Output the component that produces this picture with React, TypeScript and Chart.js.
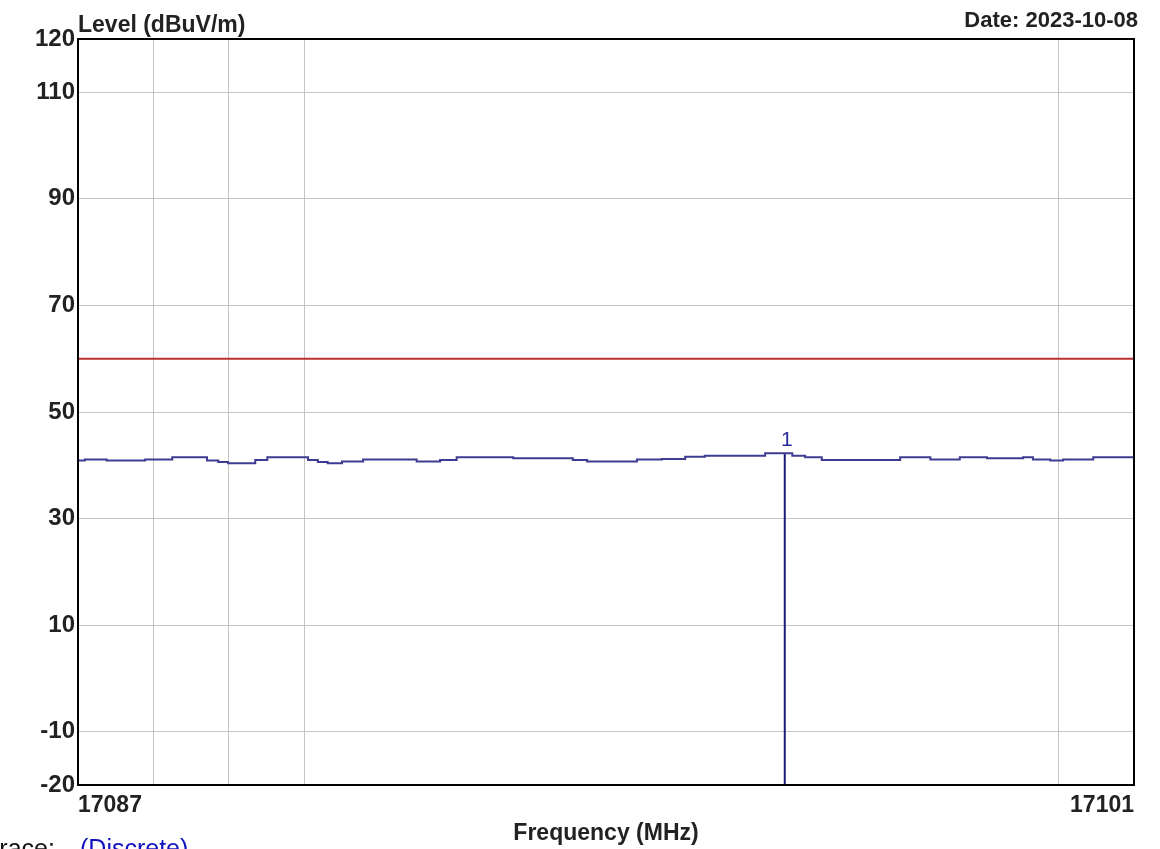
import React, { useEffect, useRef } from "react";
import { Chart, registerables } from "chart.js";

Chart.register(...registerables);

// ---- data ----
const freqMin = 17087;
const freqMax = 17101;
const levelMin = -20;
const levelMax = 120;
const yTickValues = [-20, -10, 10, 30, 50, 70, 90, 110, 120];
const xTickValues = [17087, 17088, 17089, 17090, 17100, 17101];
const xLabelled = [17087, 17101];

const traceFreqs = [
  17087.0, 17087.09, 17087.38, 17087.89, 17088.25, 17088.71, 17088.86, 17088.99,
  17089.35, 17089.51, 17090.05, 17090.18, 17090.31, 17090.5, 17090.78, 17091.49,
  17091.8, 17092.02, 17092.77, 17093.56, 17093.75, 17094.41, 17094.74, 17095.05,
  17095.31, 17096.11, 17096.47, 17096.64, 17096.86, 17097.9, 17098.3, 17098.69,
  17099.05, 17099.53, 17099.66, 17099.89, 17100.06, 17100.46, 17101.0,
];
const traceLevels = [
  40.9, 41.1, 40.9, 41.1, 41.5, 40.9, 40.6, 40.4,
  41.0, 41.5, 41.0, 40.6, 40.4, 40.7, 41.1, 40.7,
  41.0, 41.5, 41.3, 41.0, 40.7, 41.1, 41.2, 41.6,
  41.8, 42.25, 41.8, 41.5, 41.0, 41.5, 41.1, 41.5,
  41.3, 41.5, 41.1, 40.9, 41.1, 41.5, 41.5,
];

const limitLevel = 60;
const markerFreq = 17096.37;
const markerLevel = 42.25;
const markerLabel = "1";

const yTitle = "Level (dBuV/m)";
const dateText = "Date: 2023-10-08";
const xTitle = "Frequency (MHz)";
const traceWord = "Trace:";
const traceMode = "(Discrete)";

const FONT = "'Liberation Sans', Arial, sans-serif";

const overlayPlugin = {
  id: "overlay",
  afterDraw(chart: any) {
    const { ctx, chartArea } = chart;
    const xs = chart.scales.x;
    const ys = chart.scales.y;
    ctx.save();
    // frame
    ctx.strokeStyle = "#000";
    ctx.lineWidth = 2;
    ctx.strokeRect(chartArea.left, chartArea.top, chartArea.right - chartArea.left, chartArea.bottom - chartArea.top);
    // texts
    ctx.fillStyle = "#222";
    ctx.font = `bold 23px ${FONT}`;
    ctx.textBaseline = "alphabetic";
    ctx.textAlign = "left";
    ctx.fillText(yTitle, 78, 32);
    ctx.font = `bold 22px ${FONT}`;
    ctx.textAlign = "right";
    ctx.fillText(dateText, 1138, 27);
    ctx.font = `bold 23px ${FONT}`;
    ctx.textAlign = "center";
    ctx.fillText(xTitle, 606, 840);
    // trace legend (cut off at bottom)
    ctx.textAlign = "left";
    ctx.font = `25px ${FONT}`;
    ctx.fillStyle = "#111";
    ctx.fillText(traceWord, -15, 857);
    ctx.fillStyle = "#1010c0";
    ctx.fillText(traceMode, 80, 857);
    // marker label
    ctx.fillStyle = "#2a2aa0";
    ctx.font = `21px ${FONT}`;
    ctx.textAlign = "center";
    ctx.fillText(markerLabel, xs.getPixelForValue(markerFreq) + 2, ys.getPixelForValue(markerLevel) - 7);
    ctx.restore();
  },
};

export default function App() {
  const ref = useRef<HTMLCanvasElement | null>(null);
  useEffect(() => {
    if (!ref.current) return;
    const trace = traceFreqs.map((f, i) => ({ x: f, y: traceLevels[i] }));
    const chart = new Chart(ref.current, {
      type: "line",
      data: {
        datasets: [
          {
            label: "Limit",
            data: [
              { x: freqMin, y: limitLevel },
              { x: freqMax, y: limitLevel },
            ],
            borderColor: "#b83232",
            borderWidth: 2,
            pointRadius: 0,
          },
          {
            label: "Trace",
            data: trace,
            borderColor: "#3c3c92",
            borderWidth: 2,
            pointRadius: 0,
            stepped: true,
          },
          {
            label: "Marker",
            data: [
              { x: markerFreq, y: levelMin },
              { x: markerFreq, y: markerLevel },
            ],
            borderColor: "#1c1c78",
            borderWidth: 2,
            pointRadius: 0,
          },
        ],
      },
      options: {
        responsive: false,
        animation: false,
        layout: { padding: { left: 0, top: 39, right: 26, bottom: 0 } },
        plugins: { legend: { display: false }, tooltip: { enabled: false }, title: { display: false } },
        scales: {
          x: {
            type: "linear",
            min: freqMin,
            max: freqMax,
            afterBuildTicks: (s: any) => {
              s.ticks = xTickValues.map((v) => ({ value: v }));
            },
            afterFit: (s: any) => {
              s.height = 849 - 785;
            },
            grid: { color: "#c4c4c4", lineWidth: 1, drawTicks: false },
            border: { display: false },
            ticks: {
              autoSkip: false,
              maxRotation: 0,
              align: "inner",
              padding: 7,
              color: "#222",
              font: { family: FONT, size: 23, weight: "bold" },
              callback: (v: any) => (xLabelled.includes(Number(v)) ? String(v) : ""),
            },
          },
          y: {
            type: "linear",
            min: levelMin,
            max: levelMax,
            afterBuildTicks: (s: any) => {
              s.ticks = yTickValues.map((v) => ({ value: v }));
            },
            afterFit: (s: any) => {
              s.width = 78;
            },
            grid: { color: "#c4c4c4", lineWidth: 1, drawTicks: false },
            border: { display: false },
            ticks: {
              padding: 3,
              color: "#222",
              font: { family: FONT, size: 24, weight: "bold" },
              callback: (v: any) => String(v),
            },
          },
        },
      },
      plugins: [overlayPlugin],
    });
    return () => chart.destroy();
  }, []);
  return (
    <div style={{ position: "fixed", left: 0, top: 0, width: 1160, height: 849, background: "#fff" }}>
      <canvas ref={ref} width={1160} height={849} style={{ display: "block" }} />
    </div>
  );
}
